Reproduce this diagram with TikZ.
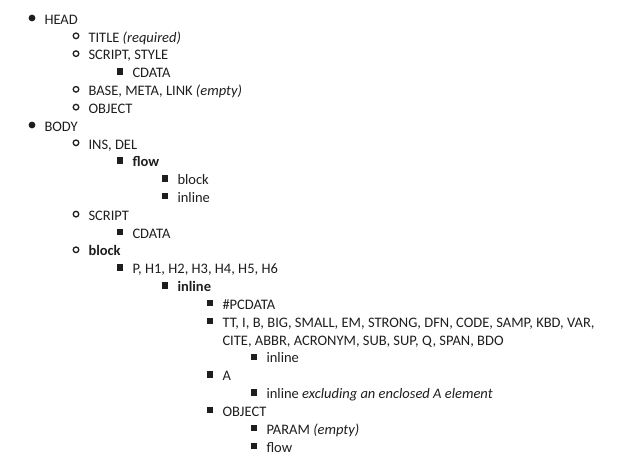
\documentclass[tikz,border=0pt]{standalone}
\usepackage{fontspec}
\setmainfont{Carlito}
\definecolor{ink}{HTML}{1E1E1E}
\begin{document}
\begin{tikzpicture}[x=1pt,y=-1pt,
  lbl/.style={anchor=base west,inner sep=0pt,outer sep=0pt,text=ink,font=\fontsize{14.5}{16}\selectfont},
  dotb/.style={circle,fill=ink,inner sep=0pt,minimum size=6.8pt},
  circb/.style={circle,draw=ink,line width=1.3pt,inner sep=0pt,minimum size=5.6pt},
  sqb/.style={rectangle,fill=ink,inner sep=0pt,minimum size=6.4pt}]
\useasboundingbox (0,0) rectangle (627,457);
\newcommand\entry[4]{%
  \node[#1] (b#3) at (#2, {19+17.83*#3-1}) {};
  \node[lbl] (t#3) at ({#2+12.5}, {19+17.83*#3+5.2}) {#4};}
\entry{dotb}{32}{0}{HEAD}
\entry{circb}{76}{1}{TITLE \textit{(required)}}
\entry{circb}{76}{2}{SCRIPT, STYLE}
\entry{sqb}{120}{3}{CDATA}
\entry{circb}{76}{4}{BASE, META, LINK \textit{(empty)}}
\entry{circb}{76}{5}{OBJECT}
\entry{dotb}{32}{6}{BODY}
\entry{circb}{76}{7}{INS, DEL}
\entry{sqb}{120}{8}{\textbf{flow}}
\entry{sqb}{165}{9}{block}
\entry{sqb}{165}{10}{inline}
\entry{circb}{76}{11}{SCRIPT}
\entry{sqb}{120}{12}{CDATA}
\entry{circb}{76}{13}{\textbf{block}}
\entry{sqb}{120}{14}{P, H1, H2, H3, H4, H5, H6}
\entry{sqb}{165}{15}{\textbf{inline}}
\entry{sqb}{210}{16}{\#PCDATA}
\entry{sqb}{210}{17}{TT, I, B, BIG, SMALL, EM, STRONG, DFN, CODE, SAMP, KBD, VAR,}
\node[lbl] (t18) at (222.5, {19+17.83*18+5.2}) {CITE, ABBR, ACRONYM, SUB, SUP, Q, SPAN, BDO};
\entry{sqb}{254}{19}{inline}
\entry{sqb}{210}{20}{A}
\entry{sqb}{254}{21}{inline \textit{excluding an enclosed A element}}
\entry{sqb}{210}{22}{OBJECT}
\entry{sqb}{254}{23}{PARAM \textit{(empty)}}
\entry{sqb}{254}{24}{flow}
\end{tikzpicture}
\end{document}
